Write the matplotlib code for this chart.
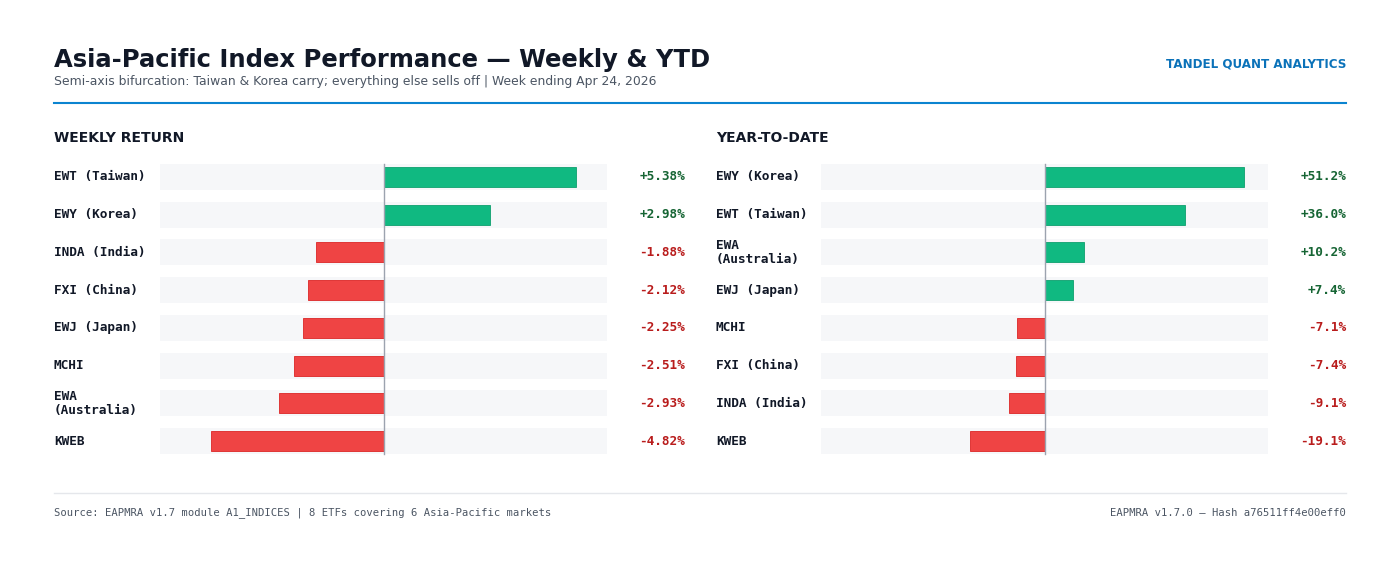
import matplotlib
matplotlib.use("Agg")
import matplotlib.pyplot as plt
from matplotlib.transforms import blended_transform_factory as btf

weekly_labels = ["EWT (Taiwan)", "EWY (Korea)", "INDA (India)", "FXI (China)", "EWJ (Japan)", "MCHI", "EWA\n(Australia)", "KWEB"]
weekly_values = [5.38, 2.98, -1.88, -2.12, -2.25, -2.51, -2.93, -4.82]
ytd_labels = ["EWY (Korea)", "EWT (Taiwan)", "EWA\n(Australia)", "EWJ (Japan)", "MCHI", "FXI (China)", "INDA (India)", "KWEB"]
ytd_values = [51.2, 36.0, 10.2, 7.4, -7.1, -7.4, -9.1, -19.1]

W, H = 1400, 566
fig = plt.figure(figsize=(W/100, H/100), dpi=100)
fig.patch.set_facecolor("white")

def fx(x): return x / W
def fy(y): return 1 - y / H

fig.text(fx(54), fy(60), "Asia-Pacific Index Performance — Weekly & YTD", fontsize=17.5, fontweight="bold", color="#111827", va="center")
fig.text(fx(54), fy(81), "Semi-axis bifurcation: Taiwan & Korea carry; everything else sells off | Week ending Apr 24, 2026", fontsize=8.9, color="#4b5563", va="center")
fig.text(fx(1346), fy(64), "TANDEL QUANT ANALYTICS", fontsize=8.6, fontweight="bold", color="#0b72b9", ha="right", va="center")
fig.add_artist(plt.Line2D([fx(54), fx(1346)], [fy(103), fy(103)], color="#0b84d0", lw=1.5))
fig.add_artist(plt.Line2D([fx(54), fx(1346)], [fy(493), fy(493)], color="#e5e7eb", lw=1))
fig.text(fx(54), fy(513), "Source: EAPMRA v1.7 module A1_INDICES | 8 ETFs covering 6 Asia-Pacific markets", fontsize=7.6, family="DejaVu Sans Mono", color="#4b5563", va="center")
fig.text(fx(1346), fy(513), "EAPMRA v1.7.0 — Hash a76511ff4e00eff0", fontsize=7.6, family="DejaVu Sans Mono", color="#4b5563", va="center", ha="right")

def panel(x0, x1, labx, valx, title, labels, values, half, fmt):
    fig.text(fx(labx), fy(138), title, fontsize=10, fontweight="bold", color="#111827", va="center")
    top, bot = 158, 460
    ax = fig.add_axes([fx(x0), fy(bot), fx(x1 - x0), (bot - top) / H])
    ax.axis("off")
    n = len(values)
    ys = list(range(n))
    ax.barh(ys, [2 * half] * n, left=-half, height=0.69, color="#f6f7f9", zorder=0)
    cols = ["#10b981" if v >= 0 else "#ef4444" for v in values]
    edge = ["#0e9f6e" if v >= 0 else "#dc2626" for v in values]
    ax.barh(ys, values, height=0.53, color=cols, edgecolor=edge, linewidth=0.6, zorder=2)
    ax.axvline(0, color="#9ca3af", lw=1, zorder=3, ymin=0.02, ymax=0.98)
    ax.set_xlim(-half, half)
    ax.set_ylim(n - 0.5, -0.5)
    tl = btf(fig.transFigure, ax.transData)
    for i, (l, v) in enumerate(zip(labels, values)):
        ax.text(fx(labx), i, l, transform=tl, fontsize=9.2, family="DejaVu Sans Mono", fontweight="bold", color="#111827", va="center", linespacing=1.1)
        ax.text(fx(valx), i, fmt(v), transform=tl, fontsize=9.2, family="DejaVu Sans Mono", fontweight="bold", color="#166534" if v >= 0 else "#b91c1c", va="center", ha="right")

panel(160, 607, 54, 685, "WEEKLY RETURN", weekly_labels, weekly_values, 6.25, lambda v: f"{v:+.2f}%")
panel(821, 1268, 716, 1346, "YEAR-TO-DATE", ytd_labels, ytd_values, 57.4, lambda v: f"{v:+.1f}%")

fig.savefig("out.png", dpi=100, facecolor="white")
